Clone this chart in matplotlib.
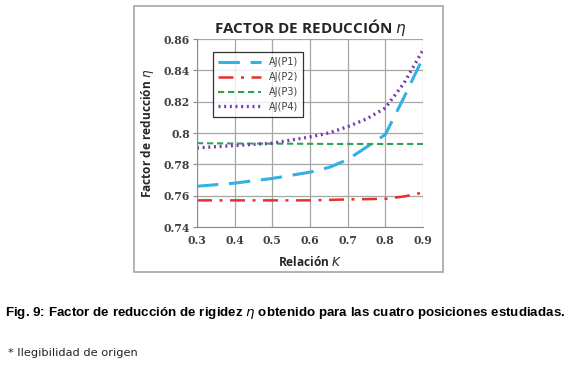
import matplotlib
matplotlib.use("Agg")
import matplotlib.pyplot as plt
from matplotlib.patches import Rectangle

# data
k = [0.30, 0.40, 0.50, 0.60, 0.65, 0.70, 0.75, 0.80, 0.85, 0.90]
p1 = [0.766, 0.768, 0.771, 0.775, 0.778, 0.783, 0.791, 0.799, 0.823, 0.848]
p2 = [0.757, 0.757, 0.757, 0.757, 0.7573, 0.7576, 0.7578, 0.758, 0.7595, 0.762]
p3 = [0.7935, 0.7933, 0.7932, 0.7931, 0.793, 0.793, 0.793, 0.793, 0.793, 0.793]
p4 = [0.7905, 0.792, 0.7935, 0.7975, 0.800, 0.804, 0.809, 0.816, 0.832, 0.853]
labels = ["AJ(P1)", "AJ(P2)", "AJ(P3)", "AJ(P4)"]
xticks = [0.3, 0.4, 0.5, 0.6, 0.7, 0.8, 0.9]
yticks = [0.74, 0.76, 0.78, 0.8, 0.82, 0.84, 0.86]
ytick_labels = ["0.74", "0.76", "0.78", "0.8", "0.82", "0.84", "0.86"]

W, H = 575, 371
fig = plt.figure(figsize=(W / 100, H / 100), dpi=100)
fig.patch.set_facecolor("white")

# outer chart frame
fig.patches.append(Rectangle((134 / W, 1 - 272 / H), (443 - 134) / W, (272 - 6) / H,
                             transform=fig.transFigure, fill=False,
                             edgecolor="#a6a6a6", linewidth=1.2))

ax = fig.add_axes([197 / W, 1 - 227 / H, 226 / W, 188 / H])
ax.plot(k, p1, color="#33b0e6", linewidth=2.2, dashes=(7, 3.5), label=labels[0])
ax.plot(k, p2, color="#e8302a", linewidth=1.8, dashes=(6, 3, 1.2, 3), label=labels[1])
ax.plot(k, p3, color="#2ea356", linewidth=1.5, dashes=(3, 1.8), label=labels[2])
ax.plot(k, p4, color="#7a3cab", linewidth=2.4, dashes=(0.6, 1.1), label=labels[3])

ax.set_xlim(0.3, 0.9)
ax.set_ylim(0.74, 0.86)
ax.set_xticks(xticks)
ax.set_yticks(yticks)
ax.set_yticklabels(ytick_labels)
ax.grid(True, color="#a6a6a6", linewidth=0.9)
ax.set_axisbelow(True)
for s in ["top", "right"]:
    ax.spines[s].set_visible(False)
for s in ["left", "bottom"]:
    ax.spines[s].set_color("#8c8c8c")
ax.tick_params(axis="y", length=3, color="#8c8c8c", pad=2)
ax.tick_params(axis="x", length=0, pad=6)
for lab in ax.get_xticklabels() + ax.get_yticklabels():
    lab.set_fontfamily("DejaVu Serif")
    lab.set_fontweight("bold")
    lab.set_fontsize(7.8)
    lab.set_color("#404040")

leg = ax.legend(loc="upper left", bbox_to_anchor=(0.05, 0.955), fontsize=7,
                frameon=True, fancybox=False, edgecolor="black",
                handlelength=4.4, labelspacing=0.5, borderpad=0.5)
leg.get_frame().set_linewidth(0.9)
for t in leg.get_texts():
    t.set_color("#404040")

fig.text(310 / W, 1 - 27 / H, r"FACTOR DE REDUCCIÓN $\eta$", ha="center", va="center",
         fontsize=11, fontweight="bold", family="Open Sans", color="#262626")
fig.text(147 / W, 1 - 133 / H, r"Factor de reducción $\eta$", ha="center", va="center",
         rotation=90, fontsize=8.6, fontweight="bold", family="Open Sans", color="#262626")
fig.text(310 / W, 1 - 262 / H, r"Relación $K$", ha="center", va="center",
         fontsize=8.6, fontweight="bold", family="Open Sans", color="#262626")

fig.text(5 / W, 1 - 313 / H,
         r"Fig. 9: Factor de reducción de rigidez $\eta$ obtenido para las cuatro posiciones estudiadas.",
         ha="left", va="center", fontsize=9.6, fontweight="bold",
         family="Liberation Sans", color="black")
fig.text(8 / W, 1 - 353 / H, "* Ilegibilidad de origen", ha="left", va="center",
         fontsize=8.2, family="DejaVu Sans", color="#222222")

fig.savefig("out.png", dpi=100)
